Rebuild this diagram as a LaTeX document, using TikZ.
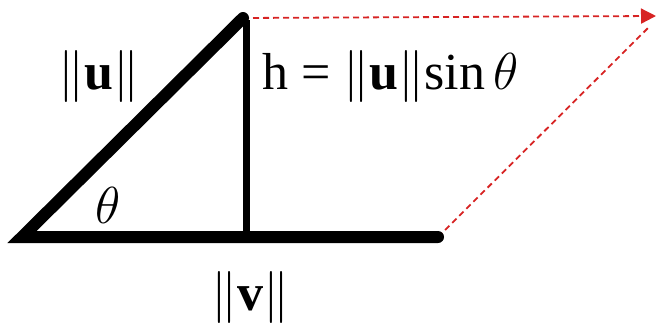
\documentclass[tikz,border=0pt]{standalone}
\usepackage{fix-cm}
\usepackage{fontspec}
\setmainfont{Liberation Serif}
\usetikzlibrary{arrows.meta, positioning, calc}
\definecolor{lineMain}{RGB}{0,0,0}
\definecolor{lineProj}{RGB}{215,35,35}
\tikzset{
  sideLine/.style={draw=lineMain, line width=12pt, line cap=round},
  heightLine/.style={draw=lineMain, line width=7pt},
  projFlow/.style={draw=lineProj, line width=1.8pt, dash pattern=on 6pt off 4pt, -{Triangle[length=15pt,width=15pt]}},
  projLine/.style={draw=lineProj, line width=1.8pt, dash pattern=on 6pt off 4pt},
  mathLabel/.style={inner sep=0pt, font=\fontsize{52}{56}\selectfont}
}
\newcommand{\vnorm}[1]{\|\mathbf{#1}\|}
\begin{document}
\begin{tikzpicture}[x=1pt, y=1pt]
  \useasboundingbox (0,0) rectangle (656,333);
  \coordinate (origin) at (22,96);
  \coordinate (apex) at (243,315);
  \coordinate (foot) at (246,96);
  \coordinate (vend) at (438,96);
  \coordinate (corner) at (656,317);

  \draw[projFlow] (apex) -- (corner);
  \draw[projLine] (vend) -- ($(corner)+(-6,-10)$);

  \draw[heightLine] (foot) -- ($(apex)+(3,-2)$);
  \draw[sideLine] (apex) -- (origin) -- (vend);

  \node[mathLabel] (ulen) at (99,257) {$\vnorm{u}$};
  \node[mathLabel, anchor=west] (hlen) at (262,257) {h = $\vnorm{u}\!\sin\theta$};
  \node[mathLabel] (angle) at (108,128) {$\theta$};
  \node[mathLabel] (vlen) at (250,36) {$\vnorm{v}$};
\end{tikzpicture}
\end{document}
